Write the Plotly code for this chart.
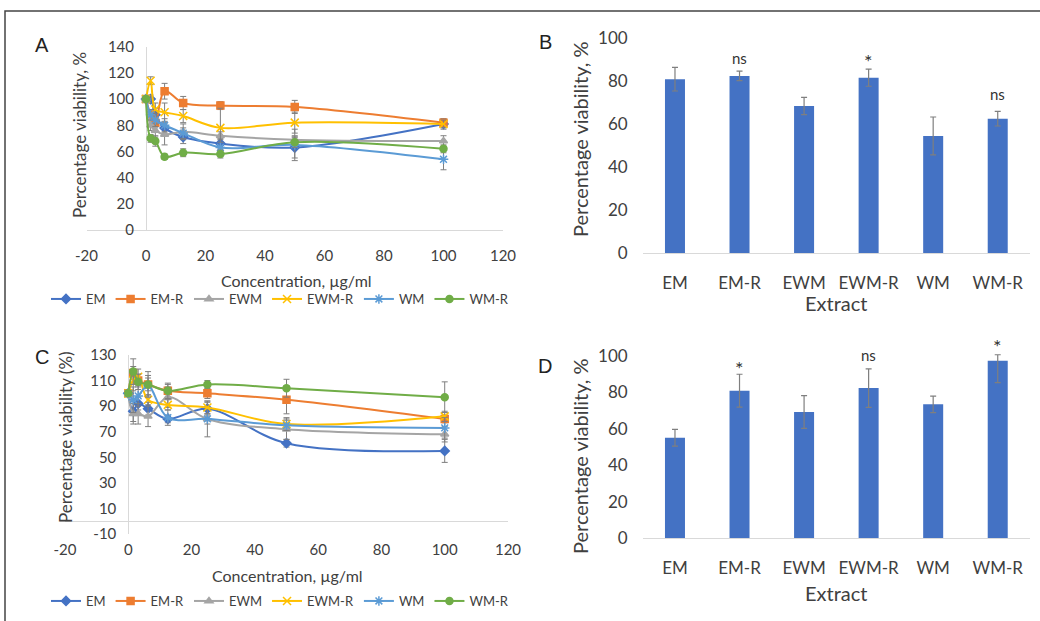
import plotly.graph_objects as go

# ---------------- data ----------------
conc = [0, 1.5625, 3.125, 6.25, 12.5, 25, 50, 100]
series_names = ["EM", "EM-R", "EWM", "EWM-R", "WM", "WM-R"]

# Panel A
a_EM = [100, 100, 88, 78, 71, 66, 63, 81]
a_EMR = [100, 88, 82, 106, 97, 95, 94, 82]
a_EWM = [100, 80, 76, 73, 75, 72, 69, 68]
a_EWMR = [100, 114, 92, 90, 87, 78, 82, 81]
a_WM = [100, 88, 84, 80, 74, 63, 65, 54]
a_WMR = [100, 70, 68, 56, 59, 58, 67, 62]
a_err_EM = [0, 3, 5, 4, 5, 4, 8, 4]
a_err_EMR = [0, 3, 4, 6, 5, 3, 5, 3]
a_err_EWM = [0, 4, 5, 8, 6, 3, 3, 4]
a_err_EWMR = [0, 3, 5, 7, 5, 15, 8, 3]
a_err_WM = [0, 4, 5, 5, 4, 4, 12, 8]
a_err_WMR = [0, 3, 4, 2, 3, 3, 4, 3]

# Panel C
c_EM = [100, 86, 92, 88, 80, 88, 61, 55]
c_EMR = [100, 116, 110, 107, 102, 100, 95, 80]
c_EWM = [100, 84, 84, 82, 97, 80, 72, 68]
c_EWMR = [100, 110, 113, 95, 91, 89, 76, 82]
c_WM = [100, 95, 98, 106, 81, 80, 75, 73]
c_WMR = [100, 117, 109, 107, 102, 107, 104, 97]
c_err_EM = [0, 8, 5, 5, 3, 5, 3, 9]
c_err_EMR = [0, 5, 5, 5, 5, 4, 11, 3]
c_err_EWM = [0, 8, 8, 8, 8, 14, 8, 6]
c_err_EWMR = [0, 8, 6, 4, 4, 5, 5, 4]
c_err_WM = [0, 10, 8, 8, 6, 4, 4, 8]
c_err_WMR = [0, 10, 6, 10, 6, 3, 7, 12]

# tick labels
line_xticks = [-20, 0, 20, 40, 60, 80, 100, 120]
line_xtick_text = ["-20", "0", "20", "40", "60", "80", "100", "120"]
a_yticks = [0, 20, 40, 60, 80, 100, 120, 140]
c_yticks = [-10, 10, 30, 50, 70, 90, 110, 130]
c_ytick_text = ["-10", "10", "30", "50", "70", "90", "110", "130"]
bar_yticks = [0, 20, 40, 60, 80, 100]

# Panel B / D bars
extracts = ["EM", "EM-R", "EWM", "EWM-R", "WM", "WM-R"]
b_vals = [81, 82.5, 68.5, 81.7, 54.6, 62.6]
b_err_plus = [5.5, 2.2, 4, 4, 8.8, 3.4]
b_err_minus = [5.5, 2.2, 4, 4, 8.8, 3.4]
b_labels = ["", "ns", "", "*", "", "ns"]
b_label_y = [0, 90.7, 0, 89.5, 0, 74.1]
d_vals = [55.2, 81, 69.3, 82.4, 73.5, 97.4]
d_err_plus = [4.6, 9, 9, 10.6, 4.5, 3.3]
d_err_minus = [4.6, 9, 9, 10.6, 4.5, 12]
d_labels = ["", "*", "", "ns", "", "*"]
d_label_y = [0, 93.5, 0, 100.5, 0, 105.5]

# ---------------- style ----------------
W, H = 1040, 621
FONT = "Lato"
TXT = "#404040"
colors = ["#4472C4", "#ED7D31", "#A5A5A5", "#FFC000", "#5B9BD5", "#70AD47"]
symbols = ["diamond", "square", "triangle-up", "x-thin-open", "asterisk-open", "circle"]
msizes = [7, 7, 7, 8, 8, 7]
AXC = "#d9d9d9"
ERRC = "#7f7f7f"


def px(x):
    return x / W


def py(y):
    return 1 - y / H


fig = go.Figure()

a_vals = [a_EM, a_EMR, a_EWM, a_EWMR, a_WM, a_WMR]
a_errs = [a_err_EM, a_err_EMR, a_err_EWM, a_err_EWMR, a_err_WM, a_err_WMR]
c_vals = [c_EM, c_EMR, c_EWM, c_EWMR, c_WM, c_WMR]
c_errs = [c_err_EM, c_err_EMR, c_err_EWM, c_err_EWMR, c_err_WM, c_err_WMR]

for i, name in enumerate(series_names):
    mk = dict(symbol=symbols[i], size=msizes[i], color=colors[i],
              line=dict(color=colors[i], width=1.5))
    fig.add_trace(go.Scatter(
        x=conc, y=a_vals[i], name=name, mode="lines+markers",
        line=dict(color=colors[i], width=2, shape="spline", smoothing=1),
        marker=mk,
        error_y=dict(type="data", array=a_errs[i], color=ERRC, thickness=1, width=3),
        xaxis="x", yaxis="y", legend="legend"))
for i, name in enumerate(series_names):
    mk = dict(symbol=symbols[i], size=msizes[i], color=colors[i],
              line=dict(color=colors[i], width=1.5))
    fig.add_trace(go.Scatter(
        x=conc, y=c_vals[i], name=name, mode="lines+markers",
        line=dict(color=colors[i], width=2, shape="spline", smoothing=1),
        marker=mk,
        error_y=dict(type="data", array=c_errs[i], color=ERRC, thickness=1, width=3),
        xaxis="x3", yaxis="y3", legend="legend2"))

fig.add_trace(go.Bar(x=extracts, y=b_vals, width=0.31, marker=dict(color="#4472C4", line=dict(width=0)),
                     error_y=dict(type="data", array=b_err_plus, arrayminus=b_err_minus,
                                  color=ERRC, thickness=1.2, width=3),
                     showlegend=False, xaxis="x2", yaxis="y2"))
fig.add_trace(go.Bar(x=extracts, y=d_vals, width=0.31, marker=dict(color="#4472C4", line=dict(width=0)),
                     error_y=dict(type="data", array=d_err_plus, arrayminus=d_err_minus,
                                  color=ERRC, thickness=1.2, width=3),
                     showlegend=False, xaxis="x4", yaxis="y4"))

tickf_a = dict(family=FONT, size=15, color=TXT)
tickf_c = dict(family=FONT, size=15, color=TXT)
tickf_big = dict(family=FONT, size=17, color=TXT)
common = dict(automargin=False, showgrid=False, ticks="")

fig.update_layout(
    template="none",
    width=W, height=H, margin=dict(l=0, r=0, t=0, b=0, pad=0, autoexpand=False),
    paper_bgcolor="white", plot_bgcolor="white",
    font=dict(family=FONT, color=TXT),
    # Panel A
    xaxis=dict(domain=[px(86.5), px(503)], range=[-20, 120], anchor="y",
               tickmode="array", tickvals=line_xticks, ticktext=line_xtick_text,
               showline=False, zeroline=True, zerolinecolor=AXC, zerolinewidth=1,
               tickfont=tickf_a, ticklabelstandoff=15, **common),
    yaxis=dict(domain=[py(230), py(46.7)], range=[0, 140], anchor="free", position=px(146),
               tickmode="array", tickvals=a_yticks,
               showline=False, zeroline=True, zerolinecolor=AXC, zerolinewidth=1,
               tickfont=tickf_a, ticklabelstandoff=12, **common),
    # Panel C
    xaxis3=dict(domain=[px(65), px(508)], range=[-20, 120], anchor="y3",
                tickmode="array", tickvals=line_xticks, ticktext=line_xtick_text,
                showline=False, zeroline=True, zerolinecolor=AXC, zerolinewidth=1,
                tickfont=tickf_c, ticklabelstandoff=5, **common),
    yaxis3=dict(domain=[py(534), py(355)], range=[-10, 130],
                tickmode="array", tickvals=c_yticks, ticktext=c_ytick_text,
                anchor="free", position=px(128.3),
                showline=False, zeroline=True, zerolinecolor=AXC, zerolinewidth=1,
                tickfont=tickf_c, ticklabelstandoff=12, **common),
    # Panel B
    xaxis2=dict(domain=[px(642.7), px(1030)], anchor="y2", showline=True, linecolor=AXC,
                tickfont=tickf_big, ticklabelstandoff=14, **common),
    yaxis2=dict(domain=[py(253.3), py(38.3)], range=[0, 100], tickmode="array", tickvals=bar_yticks,
                anchor="x2", showline=False, zeroline=False, tickfont=tickf_big,
                ticklabelstandoff=14, **common),
    # Panel D
    xaxis4=dict(domain=[px(642.7), px(1030)], anchor="y4", showline=True, linecolor=AXC,
                tickfont=tickf_big, ticklabelstandoff=14, **common),
    yaxis4=dict(domain=[py(538.3), py(337.8)], range=[0, 110], tickmode="array", tickvals=bar_yticks,
                anchor="x4", showline=False, zeroline=False, tickfont=tickf_big,
                ticklabelstandoff=14, **common),
    legend=dict(orientation="h", x=px(280), xanchor="center", y=py(299), yanchor="middle",
                font=dict(family=FONT, size=13, color=TXT), bgcolor="rgba(0,0,0,0)",
                itemwidth=30, tracegroupgap=0),
    legend2=dict(orientation="h", x=px(280), xanchor="center", y=py(601), yanchor="middle",
                 font=dict(family=FONT, size=13, color=TXT), bgcolor="rgba(0,0,0,0)",
                 itemwidth=30, tracegroupgap=0),
    showlegend=True,
)

ann = []
# panel letters
for letter, x, y in [("A", 42, 45), ("B", 545, 42), ("C", 42, 357), ("D", 545, 366)]:
    ann.append(dict(text=letter, x=px(x), y=py(y), xref="paper", yref="paper", showarrow=False,
                    xanchor="center", yanchor="middle",
                    font=dict(family="Liberation Sans", size=20, color="#222")))
# axis titles
for text, x, y, size, ang in [
    ("Percentage viability, %", 80, 135, 17, -90),
    ("Percentage viability (%)", 65, 437, 17, -90),
    ("Percentage viability, %", 580, 140, 20, -90),
    ("Percentage viability, %", 580, 457, 20, -90),
    ("Concentration, µg/ml", 296, 280, 16, 0),
    ("Concentration, µg/ml", 287, 575, 16, 0),
    ("Extract", 836, 303, 20, 0),
    ("Extract", 836, 593, 20, 0),
]:
    ann.append(dict(text=text, x=px(x), y=py(y), xref="paper", yref="paper", showarrow=False,
                    xanchor="center", yanchor="middle",
                    textangle=ang, font=dict(family=FONT, size=size, color=TXT)))
# significance labels
for cat, lab, yv in zip(extracts, b_labels, b_label_y):
    if lab:
        ann.append(dict(text=lab, x=cat, y=yv, xref="x2", yref="y2", showarrow=False,
                        xanchor="center", yanchor="middle",
                        font=dict(family=FONT, size=20 if lab == "*" else 15, color="#333")))
for cat, lab, yv in zip(extracts, d_labels, d_label_y):
    if lab:
        ann.append(dict(text=lab, x=cat, y=yv, xref="x4", yref="y4", showarrow=False,
                        xanchor="center", yanchor="middle",
                        font=dict(family=FONT, size=20 if lab == "*" else 15, color="#333")))
fig.update_layout(annotations=ann)

# outer frame (top and left edges visible)
fig.add_shape(type="rect", xref="paper", yref="paper", x0=px(5), x1=px(1050), y0=py(640), y1=py(11),
              line=dict(color="#444", width=1.5))

fig.write_html(
    "out.html",
    config={"displayModeBar": False},
    post_script="document.body.style.margin='0';document.body.style.overflow='hidden';",
)
